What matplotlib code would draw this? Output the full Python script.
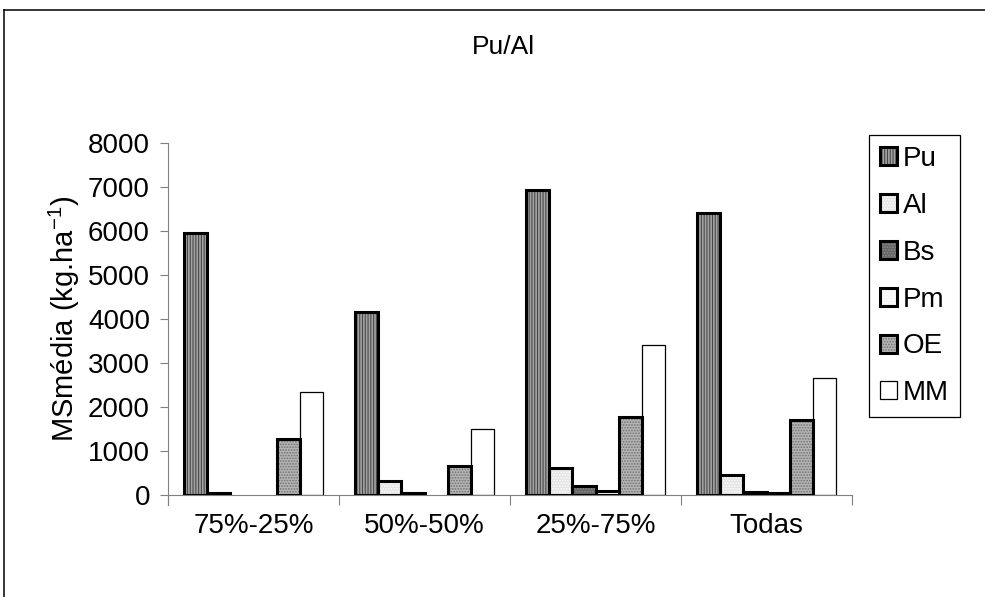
import matplotlib
matplotlib.use('Agg')
import matplotlib.pyplot as plt
import matplotlib.patches as mpatches
from matplotlib.lines import Line2D
import numpy as np

plt.rcParams.update({'font.family': ['Liberation Sans', 'DejaVu Sans'],
                     'font.size': 20, 'hatch.linewidth': 0.8})

categories = ['75%-25%', '50%-50%', '25%-75%', 'Todas']
series_names = ['Pu', 'Al', 'Bs', 'Pm', 'OE', 'MM']
pu = [5950, 4170, 6930, 6400]
al = [40, 310, 610, 460]
bs = [0, 35, 200, 70]
pm = [0, 0, 100, 50]
oe = [1270, 660, 1770, 1700]
mm = [2330, 1490, 3400, 2670]
yticks = [0, 1000, 2000, 3000, 4000, 5000, 6000, 7000, 8000]

# fill colour, pattern, pattern colour, outline width
styles = [('#a4a4a4', '||||||', '#484848', 2.2),
          ('#e4e4e4', '......', '#ffffff', 2.2),
          ('#666666', '......', '#8a8a8a', 2.2),
          ('#f4f4f4', '......', '#ffffff', 2.2),
          ('#b4b4b4', '......', '#707070', 2.2),
          ('#ffffff', None, '#ffffff', 0.9)]

fig = plt.figure(figsize=(9.85, 5.97), dpi=100)
ax = fig.add_axes([168/985, 1 - 495/597, 684/985, 352/597])

x = np.arange(len(categories))
w = 0.135
handles = []
for i, (vals, (fc, hatch, hc, lw)) in enumerate(zip([pu, al, bs, pm, oe, mm], styles)):
    pos = x + (i - 2.5) * w
    ax.bar(pos, vals, w, color=fc, hatch=hatch, edgecolor=hc, linewidth=0, zorder=2)
    lws = [lw if v > 0 else 0 for v in vals]
    ax.bar(pos, vals, w, fill=False, edgecolor='black', linewidth=lws, zorder=3)
    p1 = mpatches.Patch(facecolor=fc, hatch=hatch, edgecolor=hc, linewidth=0)
    p2 = mpatches.Patch(fill=False, edgecolor='black', linewidth=lw)
    handles.append((p1, p2))

ax.set_xlim(-0.5, 3.5)
ax.set_ylim(0, 8000)
ax.set_yticks(yticks)
ax.set_xticks(np.arange(-0.5, 4, 1))
ax.set_xticklabels([])
ax.set_xticks(x, minor=True)
ax.set_xticklabels(categories, minor=True)
ax.tick_params(axis='x', which='major', direction='out', length=7.5, width=0.8, color='#808080')
ax.tick_params(axis='x', which='minor', length=0, pad=13)
ax.tick_params(axis='y', direction='out', length=6, width=0.8, color='#808080', pad=7)

for side in ['top', 'right']:
    ax.spines[side].set_visible(False)
for side in ['left', 'bottom']:
    ax.spines[side].set_color('#808080')
    ax.spines[side].set_linewidth(0.8)
ax.spines['left'].set_bounds(-230, 8000)

ax.set_ylabel('MSmédia (kg.ha$^{\\mathregular{-1}}$)', fontsize=21, labelpad=4)
fig.text(503/985, 1 - 47/597, 'Pu/Al', ha='center', va='center', fontsize=19)

leg = fig.legend(handles, series_names, loc='upper left',
                 bbox_to_anchor=(869/985, 1 - 135/597), fancybox=False,
                 edgecolor='black', framealpha=1, borderpad=0.4,
                 labelspacing=0.75, handlelength=0.62, handleheight=0.62,
                 handletextpad=0.2, borderaxespad=0)
leg.get_frame().set_linewidth(0.9)

# outer frame of the chart area
fig.add_artist(Line2D([4/985, 4/985], [0, 1 - 10/597], color='black', lw=1.1, transform=fig.transFigure))
fig.add_artist(Line2D([4/985, 1], [1 - 10/597, 1 - 10/597], color='black', lw=1.1, transform=fig.transFigure))

fig.savefig('out.png', dpi=100)
